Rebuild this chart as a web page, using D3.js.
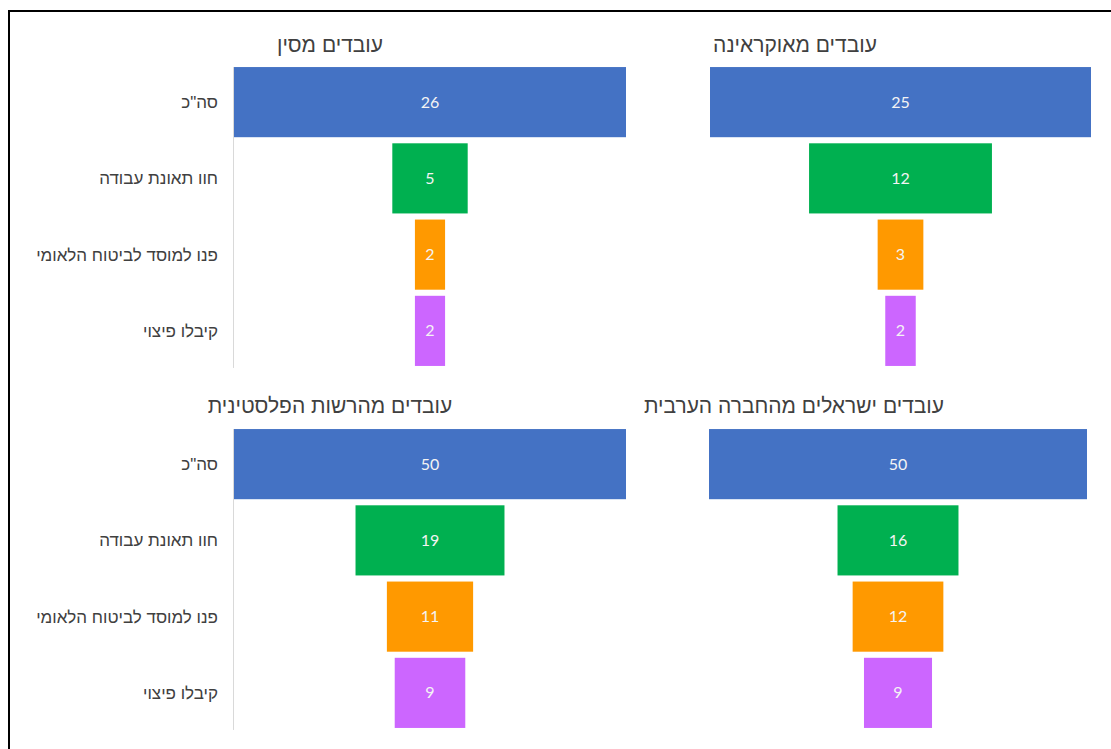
<!DOCTYPE html>
<html>
<head>
<meta charset="utf-8">
<script src="https://cdn.jsdelivr.net/npm/d3@7"></script>
<style>
  body { margin: 0; background: #fff; }
  svg { display: block; }
</style>
</head>
<body>
<div id="chart"></div>
<script>
var width = 1111, height = 749;

// data
var categories = ['סה"כ', 'חוו תאונת עבודה', 'פנו למוסד לביטוח הלאומי', 'קיבלו פיצוי'];
var titles = ['עובדים מסין', 'עובדים מאוקראינה', 'עובדים מהרשות הפלסטינית', 'עובדים ישראלים מהחברה הערבית'];
var chinaValues = [26, 5, 2, 2];
var ukraineValues = [25, 12, 3, 2];
var paValues = [50, 19, 11, 9];
var arabValues = [50, 16, 12, 9];
var colors = ['#4472c4', '#00b050', '#ff9900', '#cc66ff'];

// layout of the four panels
var panels = [
    { title: titles[0], values: chinaValues,   x0: 234, x1: 626,  y0: 64,  y1: 369, titleX: 330, titleY: 52,  labels: true },
    { title: titles[1], values: ukraineValues, x0: 710, x1: 1091, y0: 64,  y1: 369, titleX: 795, titleY: 52,  labels: false },
    { title: titles[2], values: paValues,      x0: 234, x1: 626,  y0: 426, y1: 731, titleX: 330, titleY: 413, labels: true },
    { title: titles[3], values: arabValues,    x0: 709, x1: 1087, y0: 426, y1: 731, titleX: 794, titleY: 413, labels: false }
];

var hebFont = '"Liberation Sans", "DejaVu Sans", Arial, sans-serif';

var svg = d3.select('#chart').append('svg')
    .attr('width', width)
    .attr('height', height);

// frame
svg.append('rect')
    .attr('x', 9).attr('y', 11)
    .attr('width', 1200).attr('height', 800)
    .attr('fill', 'none')
    .attr('stroke', '#000')
    .attr('stroke-width', 2);

panels.forEach(function (p) {
    var g = svg.append('g');

    var y = d3.scaleBand()
        .domain(categories)
        .range([p.y0, p.y1])
        .paddingInner(0.08)
        .paddingOuter(0.04);

    var w = d3.scaleLinear()
        .domain([0, d3.max(p.values)])
        .range([0, p.x1 - p.x0]);

    var cx = (p.x0 + p.x1) / 2;

    g.append('text')
        .attr('x', p.titleX)
        .attr('y', p.titleY)
        .attr('text-anchor', 'middle')
        .style('font-family', hebFont)
        .style('font-size', '21px')
        .attr('fill', '#404040')
        .text(p.title);

    if (p.labels) {
        g.append('line')
            .attr('x1', p.x0 - 0.5).attr('x2', p.x0 - 0.5)
            .attr('y1', y(categories[0])).attr('y2', y(categories[3]) + y.bandwidth() + 2)
            .attr('stroke', '#d9d9d9')
            .attr('stroke-width', 1);

        g.selectAll('.cat')
            .data(categories)
            .enter().append('text')
            .attr('class', 'cat')
            .attr('x', p.x0 - 16)
            .attr('y', (d) => y(d) + y.bandwidth() / 2)
            .attr('dy', '0.35em')
            .attr('text-anchor', 'end')
            .style('font-family', hebFont)
            .style('font-size', '17px')
            .attr('fill', '#404040')
            .text((d) => d);
    }

    var rows = categories.map((c, i) => ({ cat: c, value: p.values[i], color: colors[i] }));

    g.selectAll('.bar')
        .data(rows)
        .enter().append('rect')
        .attr('class', 'bar')
        .attr('x', (d) => cx - w(d.value) / 2)
        .attr('y', (d) => y(d.cat))
        .attr('width', (d) => w(d.value))
        .attr('height', y.bandwidth())
        .attr('fill', (d) => d.color);

    g.selectAll('.val')
        .data(rows)
        .enter().append('text')
        .attr('class', 'val')
        .attr('x', cx)
        .attr('y', (d) => y(d.cat) + y.bandwidth() / 2)
        .attr('dy', '0.35em')
        .attr('text-anchor', 'middle')
        .style('font-family', 'Lato, "Open Sans", sans-serif')
        .style('font-size', '16px')
        .attr('fill', '#f4f4f4')
        .text((d) => d.value);
});
</script>
</body>
</html>
